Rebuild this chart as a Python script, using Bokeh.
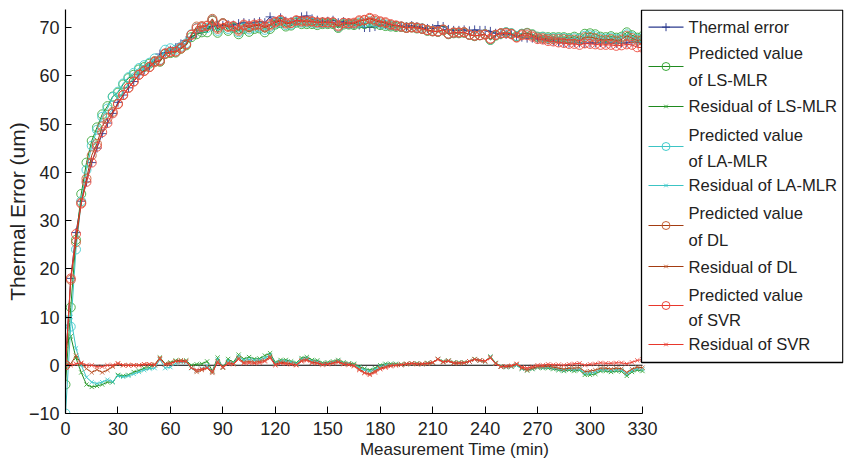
from bokeh.plotting import figure
from bokeh.models import Range1d, FixedTicker
from bokeh.core.properties import value
from bokeh.embed import file_html
from bokeh.resources import INLINE

# ---------------- data ----------------
time_min = list(range(0, 331, 3))

thermal_error = [
    0, 18, 27.5, 34, 38, 42, 45, 48, 50.2, 52.2,
    54.5, 56, 57.5, 58.8, 60.2, 61.2, 62, 63, 64.5, 64.8,
    65.3, 65.8, 66.6, 67.3, 68, 68.8, 69.3, 69.8, 70.2, 70.5,
    70.4, 70.6, 70.5, 70.8, 71, 70.8, 71, 71.2, 71, 72.2,
    71.2, 72, 71.3, 71.2, 71.5, 72.2, 72.4, 71.8, 71.5, 71.2,
    71.3, 71.5, 71, 71.2, 71, 70.8, 70.5, 70, 70, 70.2,
    70.5, 70.6, 70.5, 70.4, 70.3, 70.2, 70.4, 70.2, 70, 69.8,
    69.8, 70.4, 70.2, 69.6, 69.4, 69.4, 69.5, 69.3, 69.5, 69.4,
    69.4, 69.2, 68.8, 68.5, 68.6, 68.5, 68.2, 68, 67.8, 67.8,
    67.6, 67.5, 67.4, 67.2, 67, 66.8, 66.8, 66.9, 66.8, 66.7,
    66.8, 66.8, 66.9, 66.8, 66.8, 66.7, 66.8, 66.8, 67, 66.9,
    67,
]

residual_ls_mlr = [
    4, 6, 1.5, -1.5, -4, -4.5, -4.3, -4, -3.5, -3.5,
    -2, -2.2, -2, -1.4, -1.1, -0.6, -0.5, 0, 1.6, 0.3,
    0.6, 1, 1, 1, 0, 0.2, 0.3, 0.8, -1.2, 1.6,
    -0.5, 1.3, 0.6, 2.2, 1.3, 1.7, 1.3, 1.4, 2, 2.5,
    0.6, 1.1, 1.1, 0.8, 0.5, 1.5, 1.7, 1.1, 1, 0.5,
    0.6, 0.8, 1.1, 0.6, 0.4, 0.3, -0.3, -0.7, -1, -0.6,
    0, 0.3, 0.3, 0.3, 0.2, 0.3, 0.4, 0.4, 0.3, 0.5,
    0.6, 1.3, 0.8, 1, 0.6, 0.6, 0.6, 0.8, 1.3, 1,
    0.8, 1.8, 0.5, -0.2, -0.4, -0.3, 0, -0.7, -1.1, -0.8,
    -0.5, -0.6, -0.6, -0.8, -1, -1.2, -1, -1.2, -1, -2,
    -2, -1.8, -1.2, -1.2, -1.4, -1.2, -1.3, -2.2, -1.4, -1,
    -1.2,
]

residual_la_mlr = [
    10, 10, 3.5, 0, -2.5, -3.5, -3.8, -3.5, -3, -3.4,
    -2.2, -2.4, -2.2, -1.8, -1.4, -1, -0.7, -0.6, 1.2, -0.6,
    -0.4, 0.4, 0.6, 0.6, -0.6, -1.1, -0.7, -0.1, -1.4, 1.2,
    -0.4, 0.9, 0.4, 1.8, 1, 1.2, 1, 1.1, 1.5, 2.1,
    0.4, 0.8, 0.8, 0.6, 0.3, 1.2, 1.4, 0.8, 0.7, 0.3,
    0.4, 0.6, 0.9, 0.4, 0.3, 0.1, -0.5, -1, -1.3, -0.9,
    -0.3, 0, 0.1, 0.1, 0.1, 0.2, 0.3, 0.3, 0.2, 0.4,
    0.5, 1.3, 0.7, 0.9, 0.5, 0.5, 0.5, 0.8, 1.2, 1,
    0.8, 1.7, 0.4, -0.3, -0.4, -0.3, 0, -0.7, -1, -0.7,
    -0.4, -0.5, -0.4, -0.6, -0.8, -1, -0.8, -0.9, -0.8, -1.6,
    -1.6, -1.4, -0.9, -0.9, -1.1, -0.9, -1, -1.8, -1.1, -0.7,
    -0.8,
]

residual_dl = [
    0, 0.3, 2, 0.3, -0.7, -1.5, -0.9, -1.5, -1, -0.3,
    0.3, 0, 0, 0, 0, 0.2, 0.2, 0.2, 1.5, 0.2,
    0.4, 0.8, 1, 0.8, -0.5, -1.4, -1, -0.6, -1.6, 0.8,
    -0.3, 0.5, 0.3, 1.5, 0.6, 0.8, 0.6, 0.8, 1, 1.8,
    0.2, 0.6, 0.5, 0.3, 0.1, 1, 1.2, 0.6, 0.5, 0.2,
    0.3, 0.5, 0.8, 0.3, 0.2, 0, -0.8, -1.5, -1.8, -1.2,
    -0.6, -0.3, 0, 0, 0.1, 0.2, 0.3, 0.2, 0.2, 0.3,
    0.5, 1.3, 0.6, 0.9, 0.4, 0.4, 0.5, 0.8, 1.2, 1,
    0.8, 1.6, 0.4, -0.3, -0.3, -0.2, 0.2, -0.6, -1, -0.6,
    -0.3, -0.3, -0.2, -0.4, -0.6, -0.8, -0.6, -0.6, -0.5, -1.3,
    -1.2, -1, -0.6, -0.6, -0.8, -0.6, -0.7, -1.5, -0.8, -0.4,
    -0.5,
]

residual_svr = [
    0, 0, 0.3, 0.5, 0, 0, -0.3, -0.3, 0, 0,
    0.4, 0, 0, 0, 0, 0.2, 0.2, 0, 1.3, 0.2,
    0.3, 0.8, 0.8, 0.8, -0.5, -1, -0.8, -0.5, -1.3, 0.5,
    -0.5, 0.3, 0.2, 1.2, 0.4, 0.5, 0.4, 0.5, 0.8, 1.5,
    0, 0.4, 0.3, 0.2, 0, 0.8, 1, 0.5, 0.4, 0.1,
    0.2, 0.4, 0.6, 0.2, 0.1, -0.2, -1, -1.6, -2, -1.5,
    -0.8, -0.5, -0.2, 0, 0.1, 0.3, 0.4, 0.3, 0.3, 0.4,
    0.6, 1.2, 0.7, 0.9, 0.5, 0.5, 0.5, 0.8, 1.2, 1,
    0.9, 1.5, 0.3, -0.3, -0.2, -0.1, 0.3, -0.4, -0.6, -0.3,
    0, 0, 0.2, 0.1, 0.1, 0, 0.2, 0.3, 0.4, 0,
    0.2, 0.3, 0.5, 0.4, 0.4, 0.5, 0.5, 0.3, 0.6, 1,
    1.2,
]

x_ticks = list(range(0, 331, 30))
y_ticks = list(range(-10, 71, 10))

legend_labels = [
    ["Thermal error"],
    ["Predicted value", "of LS-MLR"],
    ["Residual of LS-MLR"],
    ["Predicted value", "of LA-MLR"],
    ["Residual of LA-MLR"],
    ["Predicted value", "of DL"],
    ["Residual of DL"],
    ["Predicted value", "of SVR"],
    ["Residual of SVR"],
]

# predicted value = measured thermal error - residual
def predicted(res):
    return [round(a - b, 3) for a, b in zip(thermal_error, res)]

pred_ls = predicted(residual_ls_mlr)
pred_la = predicted(residual_la_mlr)
pred_dl = predicted(residual_dl)
pred_svr = predicted(residual_svr)

# ---------------- layout helpers (pixel -> data, for the legend only) ----------------
FONT = "Liberation Sans"
TXT = "#222222"
X0PX, X330PX = 65, 642
Y70PX, YM10PX = 27, 413
XS = 330 / (X330PX - X0PX)
YS = 80 / (YM10PX - Y70PX)

def X(px):
    return (px - X0PX) * XS

def Y(py):
    return 70 - (py - Y70PX) * YS

p = figure(width=845, height=465, output_backend="svg", toolbar_location=None,
           x_range=Range1d(0, X(843)), y_range=Range1d(-10, Y(9)),
           min_border_left=65, min_border_right=2, min_border_top=9, min_border_bottom=52)
p.outline_line_color = None
p.xgrid.visible = False
p.ygrid.visible = False
p.background_fill_color = "white"
p.border_fill_color = "white"

for ax in (p.xaxis[0], p.yaxis[0]):
    ax.axis_line_color = "black"
    ax.axis_line_width = 1.2
    ax.major_tick_line_color = "black"
    ax.major_tick_line_width = 1
    ax.major_tick_out = 0
    ax.minor_tick_line_color = None
    ax.major_label_text_font = FONT
    ax.major_label_text_font_size = "18px"
    ax.major_label_text_color = TXT
    ax.axis_label_text_font = FONT
    ax.axis_label_text_font_style = "normal"
    ax.axis_label_text_color = TXT

p.xaxis.axis_label_text_font_size = "17px"
p.yaxis.axis_label_text_font_size = "21px"
p.xaxis.ticker = FixedTicker(ticks=x_ticks)
p.yaxis.ticker = FixedTicker(ticks=y_ticks)
p.xaxis.bounds = (0, 330)
p.xaxis.major_tick_in = 7
p.yaxis.major_tick_in = 6
p.xaxis.major_label_standoff = 8
p.yaxis.major_label_standoff = 6
p.xaxis.axis_label = "Measurement Time (min)"
p.yaxis.axis_label = "Thermal Error (um)"
p.xaxis.axis_label_standoff = 2
p.yaxis.axis_label_standoff = -3

# zero reference line
p.line(x=[0, 330], y=[0, 0], line_color="black", line_width=1)

series = [
    # (values, line colour, marker colour, marker, size)
    (thermal_error, "#2B3A8E", "#2B3A8E", "cross", 9),
    (pred_ls, "#1F8A1F", "#3DAA3D", "circle", 9),
    (residual_ls_mlr, "#1F8A1F", "#3DAA3D", "x", 6),
    (pred_la, "#3CC4C4", "#45CCCC", "circle", 9),
    (residual_la_mlr, "#3CC4C4", "#45CCCC", "x", 6),
    (pred_dl, "#A33C12", "#C8643A", "circle", 9),
    (residual_dl, "#A33C12", "#C8643A", "x", 6),
    (pred_svr, "#E8372C", "#EC4A3E", "circle", 9),
    (residual_svr, "#E8372C", "#EC4A3E", "x", 6),
]

for vals, lc, mc, mk, sz in series:
    p.line(x=time_min, y=vals, line_color=lc, line_width=1)
    p.scatter(x=time_min, y=vals, marker=mk, size=sz, fill_color=None,
              line_color=mc, line_width=1, line_alpha=0.9)

# ---------------- legend (drawn manually) ----------------
p.quad(left=[X(641)], right=[X(842.3)], top=[Y(9.7)], bottom=[Y(362)],
       fill_color="white", line_color="black", line_width=1.3)

line_rows = [26.7, 53, 80, 106, 134.5, 161, 185, 213, 240, 266.5, 294.5, 320, 344]
glyph_rows = [26.7, 66, 106, 146, 185, 225, 266, 305, 344]
tx, ty, tt = [], [], []
k = 0
for i, labs in enumerate(legend_labels):
    vals, lc, mc, mk, sz = series[i]
    gy = Y(glyph_rows[i])
    p.line(x=[X(648), X(683)], y=[gy, gy], line_color=lc, line_width=1.2)
    p.scatter(x=[X(665.5)], y=[gy], marker=mk, size=sz - 1 if mk != "x" else 5,
              fill_color=None, line_color=mc, line_width=1)
    for lab in labs:
        tx.append(X(688))
        ty.append(Y(line_rows[k]))
        tt.append(lab)
        k += 1

p.text(x=tx, y=ty, text=tt, text_font=value(FONT), text_font_size="16.6px",
       text_baseline="middle", text_align="left", text_color=TXT)

open("out.html", "w").write(file_html(p, INLINE))
